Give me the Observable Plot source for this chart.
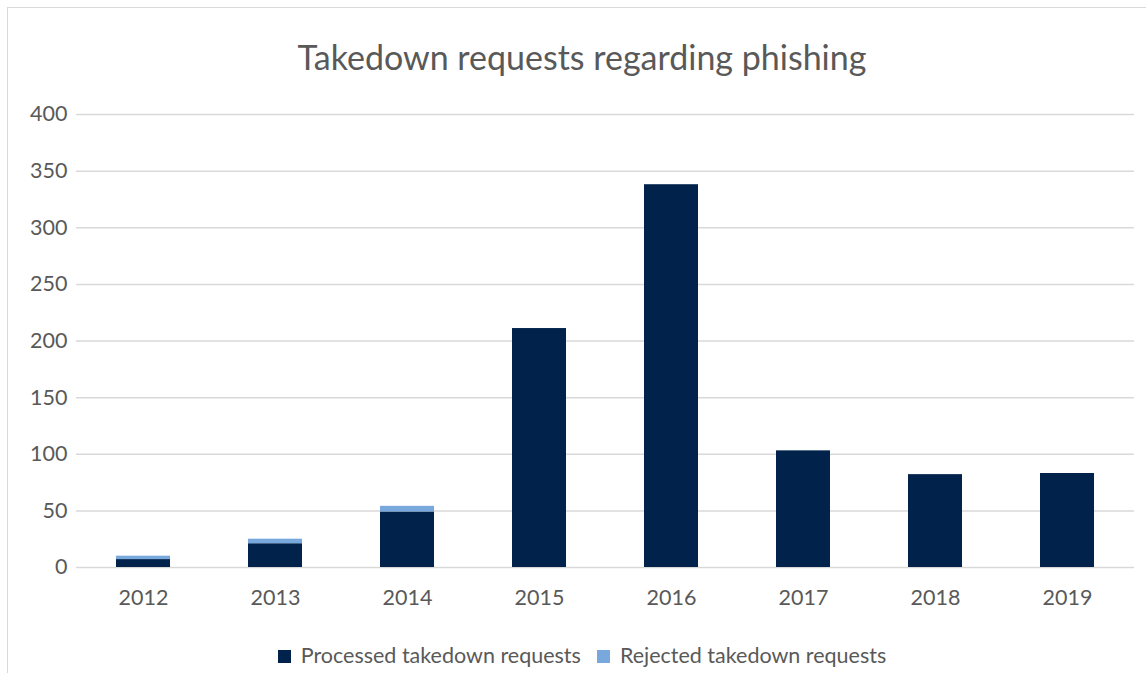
<!DOCTYPE html>
<html>
<head>
<meta charset="utf-8">
<script src="https://cdn.jsdelivr.net/npm/d3@7"></script>
<script src="https://cdn.jsdelivr.net/npm/@observablehq/plot@0.6"></script>
<style>
  body { margin: 0; background: #fff; font-family: Lato, "Open Sans", sans-serif; }
  #wrap { position: relative; width: 1146px; height: 673px; overflow: hidden; background: #fff; }
  #frame { position: absolute; left: 7px; top: 7px; width: 1300px; height: 800px; border: 1.5px solid #d9d9d9; box-sizing: border-box; }
  #title { position: absolute; left: 0; width: 1164px; top: 36px; text-align: center; font-size: 34px; color: #595959; }
  #chart { position: absolute; left: 0; top: 90px; }
  #legend { position: absolute; left: 0; width: 1164px; top: 642px; text-align: center; font-size: 21.5px; color: #595959; white-space: nowrap; }
  .sw { display: inline-block; width: 13px; height: 13px; margin-right: 10px; vertical-align: 0px; }
  .item { margin: 0 8px; }
</style>
</head>
<body>
<div id="wrap">
  <div id="frame"></div>
  <div id="title">Takedown requests regarding phishing</div>
  <div id="chart"></div>
  <div id="legend"></div>
</div>
<script>
const years = ["2012", "2013", "2014", "2015", "2016", "2017", "2018", "2019"];
const processed = [7, 21, 49, 211, 338, 103, 82, 83];
const rejected = [3, 4, 5, 0, 0, 0, 0, 0];
const seriesNames = ["Processed takedown requests", "Rejected takedown requests"];
const seriesColors = ["#00224B", "#78A8DC"];
const yTicks = [0, 50, 100, 150, 200, 250, 300, 350, 400];

const rows = [];
years.forEach((y, i) => {
  rows.push({year: y, series: seriesNames[0], value: processed[i]});
  rows.push({year: y, series: seriesNames[1], value: rejected[i]});
});

const chart = Plot.plot({
  width: 1146,
  height: 530,
  marginLeft: 76,
  marginRight: 12,
  marginTop: 24,
  marginBottom: 53,
  style: {fontFamily: "Lato, 'Open Sans', sans-serif", fontSize: "21.5px", color: "#595959", background: "transparent"},
  x: {domain: years, paddingInner: 0.59, paddingOuter: 0.295, label: null, tickSize: 0, tickPadding: 22},
  y: {domain: [0, 400], ticks: yTicks, label: null, tickSize: 0, tickPadding: 9},
  color: {domain: seriesNames, range: seriesColors},
  marks: [
    Plot.gridY(yTicks, {stroke: "#d9d9d9", strokeOpacity: 1, strokeWidth: 1.5}),
    Plot.barY(rows, Plot.stackY({x: "year", y: "value", fill: "series", order: seriesNames})),
    Plot.axisX({tickSize: 0, tickPadding: 22, fontSize: 21.5}),
    Plot.axisY({ticks: yTicks, tickSize: 0, tickPadding: 9, fontSize: 21.5})
  ]
});
document.getElementById("chart").appendChild(chart);

const legend = document.getElementById("legend");
seriesNames.forEach((n, i) => {
  const s = document.createElement("span");
  s.className = "item";
  s.innerHTML = `<span class="sw" style="background:${seriesColors[i]}"></span>${n}`;
  legend.appendChild(s);
});
</script>
</body>
</html>
